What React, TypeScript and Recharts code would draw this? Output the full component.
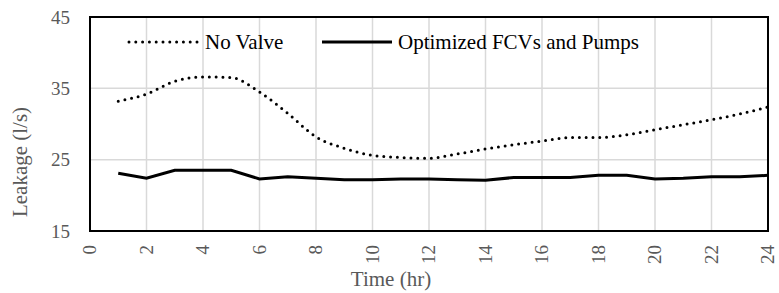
import React from 'react';
import { CartesianGrid, Line, LineChart, ReferenceArea, XAxis, YAxis, Label } from 'recharts';

const HOURS = [1, 2, 3, 4, 5, 6, 7, 8, 9, 10, 11, 12, 13, 14, 15, 16, 17, 18, 19, 20, 21, 22, 23, 24];
const NO_VALVE = [33.2, 34.2, 36.0, 36.6, 36.5, 34.5, 31.5, 28.2, 26.6, 25.6, 25.3, 25.2, 25.8, 26.5, 27.1, 27.6, 28.1, 28.1, 28.5, 29.2, 29.9, 30.6, 31.4, 32.4];
const OPTIMIZED = [23.1, 22.4, 23.5, 23.5, 23.5, 22.3, 22.6, 22.4, 22.2, 22.2, 22.3, 22.3, 22.2, 22.1, 22.5, 22.5, 22.5, 22.8, 22.8, 22.3, 22.4, 22.6, 22.6, 22.8];
const X_TICKS = [0, 2, 4, 6, 8, 10, 12, 14, 16, 18, 20, 22, 24];
const Y_TICKS = [15, 25, 35, 45];
const SERIES_NAMES = ['No Valve', 'Optimized FCVs and Pumps'];

const FONT = '"Liberation Serif", serif';
const GREY = '#595959';

const data = HOURS.map((h, i) => ({ hour: h, noValve: NO_VALVE[i], optimized: OPTIMIZED[i] }));

function RotatedTick(props: any) {
  const { x, y, payload } = props;
  return (
    <text
      x={x}
      y={y}
      transform={`rotate(-90, ${x}, ${y})`}
      textAnchor="end"
      dy="0.33em"
      fill={GREY}
      fontSize={19}
      fontFamily={FONT}
    >
      {payload.value}
    </text>
  );
}

function YTitle(props: any) {
  const vb = props.viewBox;
  const cx = vb.x + 20;
  const cy = vb.y + vb.height / 2 + 38;
  return (
    <text
      x={cx}
      y={cy}
      transform={`rotate(-90, ${cx}, ${cy})`}
      textAnchor="middle"
      dy="0.33em"
      fill={GREY}
      fontSize={21}
      fontFamily={FONT}
    >
      Leakage (l/s)
    </text>
  );
}

function LegendOverlay() {
  return (
    <svg width={779} height={30} style={{ position: 'absolute', left: 0, top: 27 }}>
      <line x1={129} x2={198} y1={15} y2={15} stroke="#000" strokeWidth={3} strokeDasharray="0 6.8" strokeLinecap="round" />
      <text x={205} y={15} dy="0.33em" fontSize={21} fontFamily={FONT} fill="#000">{SERIES_NAMES[0]}</text>
      <line x1={322} x2={392} y1={15} y2={15} stroke="#000" strokeWidth={3.2} />
      <text x={398} y={15} dy="0.33em" fontSize={21} fontFamily={FONT} fill="#000">{SERIES_NAMES[1]}</text>
    </svg>
  );
}

export default function App() {
  return (
    <div style={{ position: 'absolute', left: 0, top: 0, width: 779, height: 293, background: '#fff' }}>
      <LineChart width={779} height={293} data={data} margin={{ top: 17, right: 11, bottom: 0, left: 0 }}>
        <CartesianGrid stroke="#d9d9d9" strokeWidth={1.5} />
        <XAxis
          dataKey="hour"
          type="number"
          domain={[0, 24]}
          ticks={X_TICKS}
          axisLine={false}
          tickLine={false}
          tickSize={0}
          tickMargin={14}
          height={62}
          tick={<RotatedTick />}
          interval={0}
        >
          <Label
            value="Time (hr)"
            position="insideBottom"
            offset={7}
            dx={-38}
            fill={GREY}
            fontSize={21}
            fontFamily={FONT}
          />
        </XAxis>
        <YAxis
          type="number"
          domain={[15, 45]}
          ticks={Y_TICKS}
          axisLine={false}
          tickLine={false}
          tickSize={0}
          tickMargin={20}
          width={90}
          tick={{ fill: GREY, fontSize: 19, fontFamily: FONT }}
          interval={0}
        >
          <Label content={<YTitle />} />
        </YAxis>
        <Line
          type="monotone"
          dataKey="noValve"
          name={SERIES_NAMES[0]}
          stroke="#000"
          strokeWidth={3}
          strokeDasharray="0 6.8"
          strokeLinecap="round"
          dot={false}
          isAnimationActive={false}
        />
        <Line
          type="linear"
          dataKey="optimized"
          name={SERIES_NAMES[1]}
          stroke="#000"
          strokeWidth={3}
          dot={false}
          isAnimationActive={false}
        />
        <ReferenceArea x1={0} x2={24} y1={15} y2={45} fill="none" stroke="#000" strokeWidth={2} ifOverflow="visible" />
      </LineChart>
      <LegendOverlay />
    </div>
  );
}
